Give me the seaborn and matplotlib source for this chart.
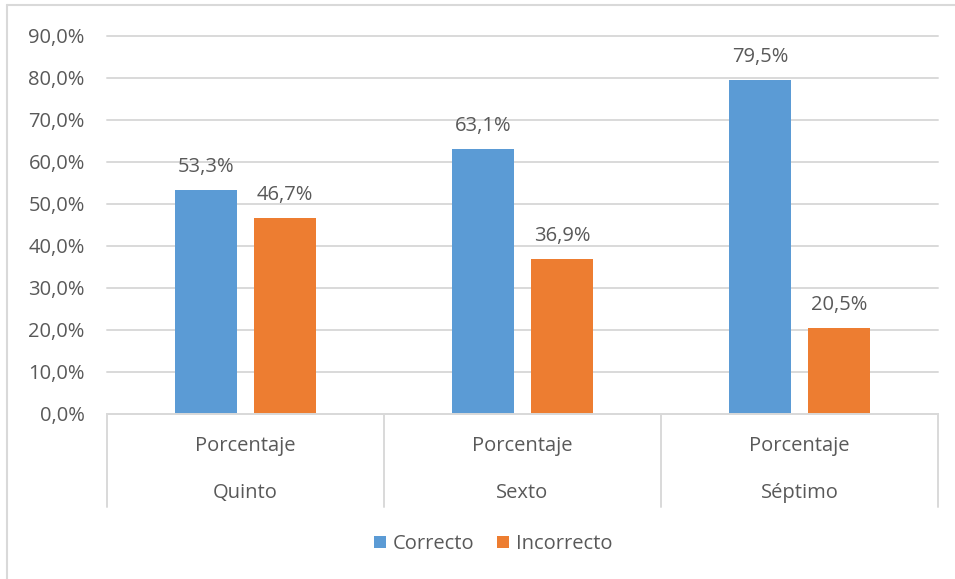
import matplotlib
matplotlib.use("Agg")
import matplotlib.pyplot as plt
import seaborn as sns
import pandas as pd
from matplotlib.lines import Line2D
from matplotlib.patches import Patch

grades = ["Quinto", "Sexto", "Séptimo"]
sub_label = "Porcentaje"
series_names = ["Correcto", "Incorrecto"]
correcto = [53.3, 63.1, 79.5]
incorrecto = [46.7, 36.9, 20.5]
yticks = [0, 10, 20, 30, 40, 50, 60, 70, 80, 90]

colors = ["#5B9BD5", "#ED7D31"]
text_color = "#595959"
grid_color = "#D9D9D9"
FS = 14.5

rows = []
for g, c, i in zip(grades, correcto, incorrecto):
    rows.append({"grade": g, "serie": series_names[0], "value": c})
    rows.append({"grade": g, "serie": series_names[1], "value": i})
df = pd.DataFrame(rows)

sns.set_theme(style="white")
plt.rcParams["font.family"] = ["Open Sans", "DejaVu Sans"]

W, H = 955, 579
fig = plt.figure(figsize=(W / 100, H / 100), dpi=100)
left, right, top, bottom = 107, 938, 36, 414
ax = fig.add_axes([left / W, 1 - bottom / H, (right - left) / W, (bottom - top) / H])

sns.barplot(data=df, x="grade", y="value", hue="serie", order=grades,
            hue_order=series_names, palette=colors, width=0.57, gap=0.215,
            saturation=1, ax=ax, legend=False, errorbar=None, linewidth=0)

ax.set_xlim(-0.5, len(grades) - 0.5)
ax.set_ylim(0, 90)
ax.set_yticks(yticks)
ax.set_yticklabels([f"{v:.1f}%".replace(".", ",") for v in yticks],
                   fontsize=FS, color=text_color)
ax.tick_params(axis="y", length=0, pad=16)
ax.set_xticks([])
ax.set_xlabel("")
ax.set_ylabel("")
for s in ax.spines.values():
    s.set_visible(False)
ax.grid(axis="y", color=grid_color, linewidth=1.4)
for gl in ax.get_ygridlines():
    gl.set_clip_on(False)
ax.set_axisbelow(True)

for cont in ax.containers:
    for bar in cont:
        h = bar.get_height()
        ax.annotate(f"{h:.1f}%".replace(".", ","),
                    (bar.get_x() + bar.get_width() / 2, h),
                    xytext=(0, 13), textcoords="offset points",
                    ha="center", va="baseline", fontsize=FS, color=text_color)

# category axis
axis_h = (bottom - top)
trans = ax.get_xaxis_transform()
ax.plot([-0.5, len(grades) - 0.5], [0, 0], transform=trans, color=grid_color,
        lw=1.4, clip_on=False)
sep_bottom = -(507 - bottom) / axis_h
for xs in [k - 0.5 for k in range(len(grades) + 1)]:
    ax.plot([xs, xs], [0, sep_bottom], transform=trans, color=grid_color,
            lw=1.4, clip_on=False)
for k, g in enumerate(grades):
    ax.text(k, -(446 - bottom) / axis_h, sub_label, transform=trans,
            ha="center", va="center", fontsize=FS, color=text_color)
    ax.text(k, -(493 - bottom) / axis_h, g, transform=trans,
            ha="center", va="center", fontsize=FS, color=text_color)

handles = [Patch(facecolor=c, edgecolor="none") for c in colors]
fig.legend(handles, series_names, loc="center",
           bbox_to_anchor=(493 / W, 1 - 544 / H), ncol=2, frameon=False,
           fontsize=FS, labelcolor=text_color, handlelength=0.6,
           handleheight=0.6, handletextpad=0.35, columnspacing=1.1)

# chart area border (top and left visible)
fig.add_artist(Line2D([7 / W, 7 / W], [0, 1 - 5 / H], transform=fig.transFigure,
                      color=grid_color, lw=1.5))
fig.add_artist(Line2D([7 / W, 1], [1 - 5 / H, 1 - 5 / H], transform=fig.transFigure,
                      color=grid_color, lw=1.5))

fig.savefig("out.png", dpi=100, facecolor="white")
